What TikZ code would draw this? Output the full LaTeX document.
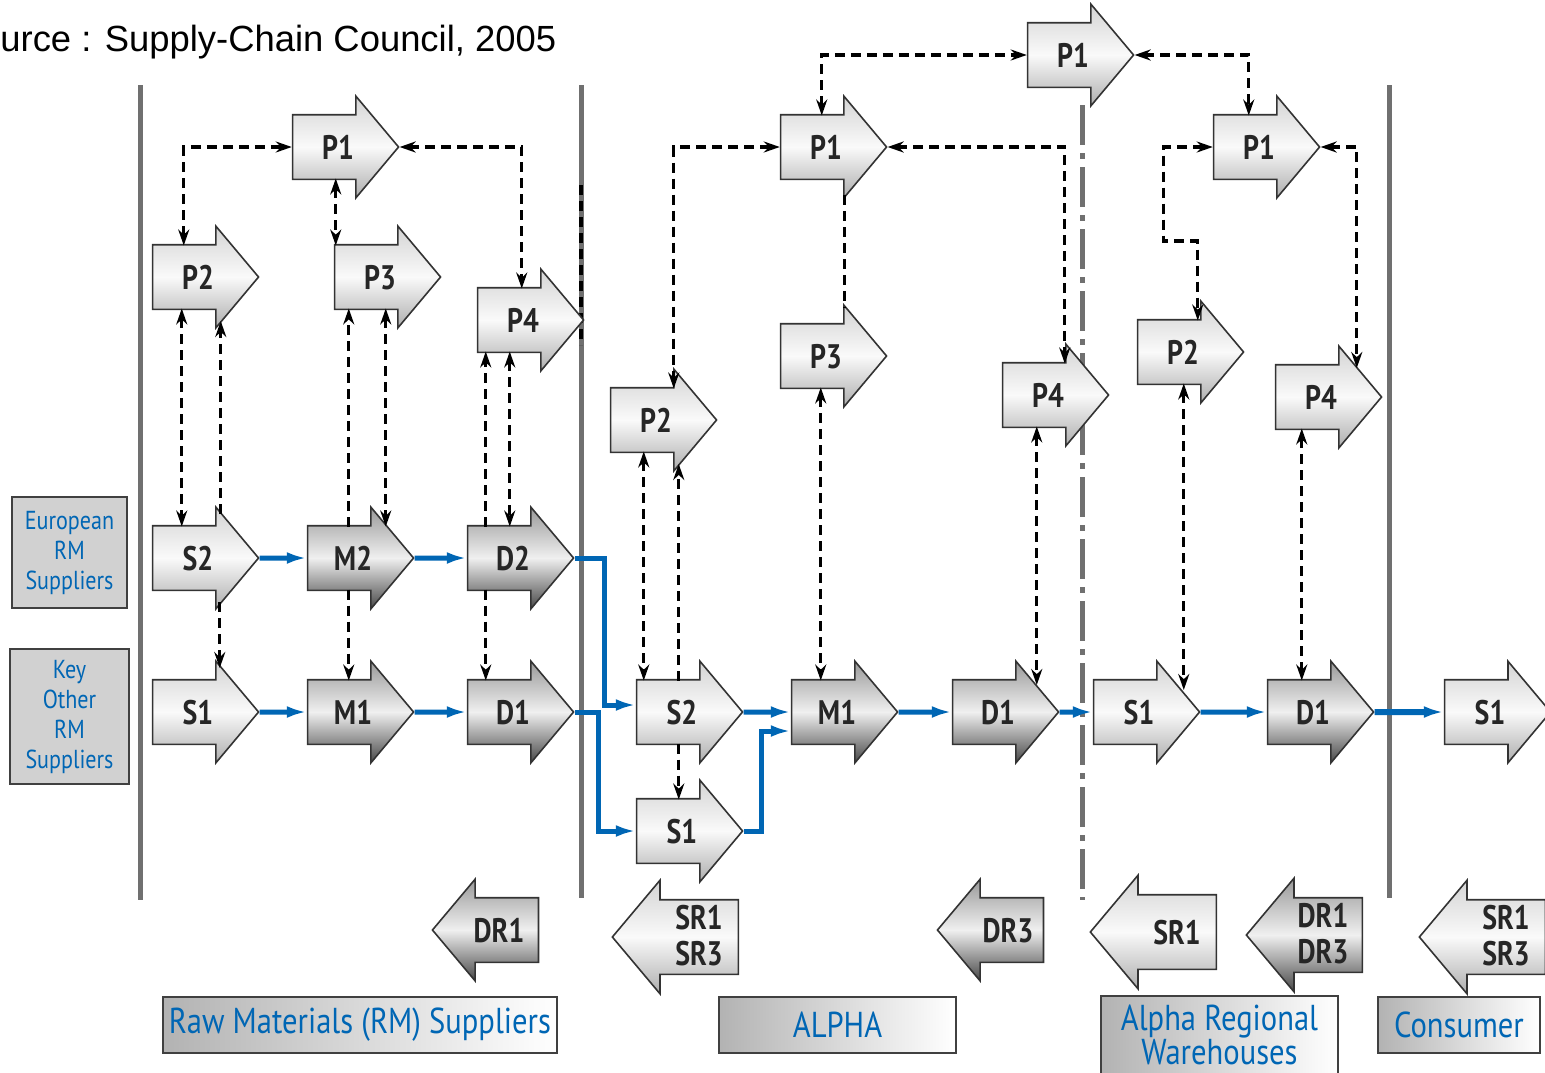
\documentclass[tikz,border=0pt]{standalone}
\usepackage{fontspec}
\setmainfont{Liberation Sans}
\newfontfamily\procfont{PT Sans}[FakeStretch=0.82]
\newfontfamily\zonefont{PT Sans}[FakeStretch=0.85]
\usetikzlibrary{shapes.arrows,arrows.meta,calc}
\definecolor{scorblue}{RGB}{0,102,180}
\definecolor{sepgray}{RGB}{112,112,112}
\newcommand\hbody{31.5}
\newcommand\rtag[2]{\makebox[0pt]{\hspace*{#1}#2}}

\begin{document}
\begin{tikzpicture}[x=0.5pt, y=-0.5pt,
  proc/.style={single arrow, draw=black!80, line width=0.8pt, minimum height=53pt,
    inner xsep=0pt, inner ysep=9.75pt, text height=12pt, text depth=0pt,
    single arrow head extend=9.25pt, single arrow tip angle=100,
    font=\procfont\bfseries\fontsize{17}{18}\selectfont, text=black!85},
  fwd/.style={proc, execute at begin node=\hspace*{6pt}},
  rev/.style={proc, shape border rotate=180},
  lite/.style={top color=black!17, bottom color=black!32, middle color=black!2},
  dim/.style={top color=black!40, bottom color=black!72, middle color=black!6},
  wide/.style={minimum height=63pt, inner ysep=12.25pt, single arrow head extend=9.75pt},
  flow/.style={draw=scorblue, line width=2.5pt, -{Latex[length=10pt,width=6pt]}},
  plan/.style={draw=black, line width=1.7pt, dash pattern=on 5pt off 3pt, >={Stealth[length=8pt,width=5.5pt]}},
  divider/.style={draw=sepgray, line width=2.5pt},
  sidebox/.style={draw=black!75, line width=1pt, fill=black!18, text=scorblue, align=center,
    inner sep=0pt, font=\zonefont\fontsize{13}{15}\selectfont},
  zone/.style={draw=black!75, line width=1pt, left color=black!30, right color=white, text=scorblue,
    inner sep=0pt, font=\zonefont\fontsize{18}{17}\selectfont}]

  \useasboundingbox (0,0) rectangle (1545,1072);

  \node at (0,42) [anchor=west, inner sep=0pt, font=\fontsize{18.2}{20}\selectfont] (src) {urce : Supply-Chain Council, 2005};

  %lanes
  \draw[divider] (140,85) -- (140,900);
  \draw[divider] (581,85) -- (581,898);
  \draw[divider, dash pattern=on 20pt off 4pt on 3pt off 4pt] (1082,105) -- (1082,900);
  \draw[divider] (1389,85) -- (1389,898);
  \draw[plan] (581,185) -- (581,345);

  \node at (69.5,552.5) [sidebox, minimum width=57.5pt, minimum height=55.5pt] (eur) {European\\RM\\Suppliers};
  \node at (69.5,716.5) [sidebox, minimum width=59.5pt, minimum height=67.5pt] (key) {Key\\Other\\RM\\Suppliers};

  %Raw materials suppliers
  \node at (332,147) [fwd, lite] (rP1) {P1};
  \node at (192,277) [fwd, lite] (rP2) {P2};
  \node at (374,277) [fwd, lite] (rP3) {P3};
  \node at (517,320) [fwd, lite] (rP4) {P4};
  \node at (192,558) [fwd, lite] (rS2) {S2};
  \node at (347,558) [fwd, dim] (rM2) {M2};
  \node at (507,558) [fwd, dim] (rD2) {D2};
  \node at (192,712) [fwd, lite] (rS1) {S1};
  \node at (347,712) [fwd, dim] (rM1) {M1};
  \node at (507,712) [fwd, dim] (rD1) {D1};
  \node at (499,930) [rev, dim] (rDR1) {DR1};

  %Alpha
  \node at (820,147) [fwd, lite] (aP1) {P1};
  \node at (650,420) [fwd, lite] (aP2) {P2};
  \node at (820,356) [fwd, lite] (aP3) {P3};
  \node at (1042,395) [fwd, lite] (aP4) {P4};
  \node at (676,712) [fwd, lite] (aS2) {S2};
  \node at (676,831) [fwd, lite] (aS1) {S1};
  \node at (831,712) [fwd, dim] (aM1) {M1};
  \node at (992,712) [fwd, dim] (aD1) {D1};
  \node at (691,937) [rev, wide, lite] (aSR) {\rtag{8pt}{\begin{tabular}{@{}c@{}}SR1\\SR3\end{tabular}}};
  \node at (1004,930) [rev, dim] (aDR3) {\rtag{4pt}{DR3}};
  \node at (1067,55) [fwd, lite] (tP1) {P1};

  %Regional warehouses
  \node at (1253,147) [fwd, lite] (wP1) {P1};
  \node at (1177,352) [fwd, lite] (wP2) {P2};
  \node at (1315,397) [fwd, lite] (wP4) {P4};
  \node at (1133,712) [fwd, lite] (wS1) {S1};
  \node at (1307,712) [fwd, dim] (wD1) {D1};
  \node at (1169,932) [rev, wide, lite] (wSR1) {\rtag{8pt}{SR1}};
  \node at (1320,935) [rev, wide, dim, minimum height=58pt] (wDR) {\rtag{3pt}{\begin{tabular}{@{}c@{}}DR1\\DR3\end{tabular}}};

  %Consumer
  \node at (1484,712) [fwd, lite] (cS1) {S1};
  \node at (1498,937) [rev, wide, lite] (cSR) {\rtag{8pt}{\begin{tabular}{@{}c@{}}SR1\\SR3\end{tabular}}};

  \node at (360,1025) [zone, minimum width=197pt, minimum height=28pt] (zRM) {Raw Materials (RM) Suppliers};
  \node at (837.5,1025) [zone, minimum width=118.5pt, minimum height=28pt] (zAlpha) {ALPHA};
  \node at (1219.5,1035) [zone, minimum width=118.5pt, minimum height=39pt, align=center] (zWH) {Alpha Regional\\Warehouses};
  \node at (1459,1025) [zone, minimum width=81pt, minimum height=28pt] (zCons) {Consumer};

  %material flow
  \draw[flow] (rS2.east) -- (rM2.west);
  \draw[flow] (rM2.east) -- (rD2.west);
  \draw[flow] (rS1.east) -- (rM1.west);
  \draw[flow] (rM1.east) -- (rD1.west);
  \draw[flow] (rD2.east) -- ++(30,0) |- ($(aS2.west)+(0,-7)$);
  \draw[flow] (rD1.east) -- ++(24,0) |- (aS1.west);
  \draw[flow] (aS2.east) -- (aM1.west);
  \draw[flow] (aS1.east) -- ++(18,0) |- ($(aM1.west)+(0,19)$);
  \draw[flow] (aM1.east) -- (aD1.west);
  \draw[flow] (aD1.east) -- (wS1.west);
  \draw[flow] (wS1.east) -- (wD1.west);
  \draw[flow, line width=3pt] (wD1.east) -- (cS1.west);

  %planning links, raw materials
  \draw[plan, <->] ($(rP2.tail)+(32,-\hbody)$) |- (rP1.west);
  \draw[plan, <->] ($(rP1.tail)+(44,\hbody)$) -- ($(rP3.tail)+(2,-\hbody)$);
  \draw[plan, <->] (rP1.east) -| ($(rP4.tail)+(45,-\hbody)$);
  \draw[plan, <->] ($(rP2.tail)+(30,\hbody)$) -- ($(rS2.tail)+(30,-\hbody)$);
  \draw[plan, ->] ($(rS2.tail)+(69,-44)$) -- ($(rP2.tail)+(69,44)$);
  \draw[plan, ->] ($(rS2.tail)+(68,44)$) -- ($(rS1.tail)+(68,-44)$);
  \draw[plan, ->] ($(rM2.tail)+(42,-\hbody)$) -- ($(rP3.tail)+(15,\hbody)$);
  \draw[plan, <->] ($(rP3.tail)+(52,\hbody)$) -- ($(rM2.tail)+(79,-\hbody)$);
  \draw[plan, ->] ($(rM2.tail)+(42,\hbody)$) -- ($(rM1.tail)+(42,-\hbody)$);
  \draw[plan, ->] ($(rD2.tail)+(19,-\hbody)$) -- ($(rP4.tail)+(9,\hbody)$);
  \draw[plan, <->] ($(rP4.tail)+(33,\hbody)$) -- ($(rD2.tail)+(43,-\hbody)$);
  \draw[plan, ->] ($(rD2.tail)+(19,\hbody)$) -- ($(rD1.tail)+(19,-\hbody)$);

  %planning links, alpha
  \draw[plan, <->] (aP1.west) -| ($(aP2.tail)+(64,-\hbody)$);
  \draw[plan, <->] ($(aP1.tail)+(42,-\hbody)$) |- (tP1.west);
  \draw[plan, <->] (aP1.east) -| ($(aP4.tail)+(63,-\hbody)$);
  \draw[plan] ($(aP1.tail)+(65,48)$) -- ($(aP3.tail)+(65,-48)$);
  \draw[plan, <->] ($(aP2.tail)+(34,\hbody)$) -- ($(aS2.tail)+(8,-\hbody)$);
  \draw[plan, ->] ($(aS2.tail)+(43,-\hbody)$) -- ($(aP2.tail)+(69,44)$);
  \draw[plan, ->] ($(aS2.tail)+(43,\hbody)$) -- ($(aS1.tail)+(43,-\hbody)$);
  \draw[plan, <->] ($(aP3.tail)+(41,\hbody)$) -- ($(aM1.tail)+(30,-\hbody)$);
  \draw[plan, <->] ($(aP4.tail)+(35,\hbody)$) -- ($(aD1.tail)+(85,-27)$);

  %planning links, warehouses
  \draw[plan, <->] (tP1.east) -| ($(wP1.tail)+(36,-\hbody)$);
  \draw[plan, <->] (wP1.west) -| ($(wP2.tail)+(27,-111)$) -| ($(wP2.tail)+(61,-\hbody)$);
  \draw[plan, <->] (wP1.east) -| ($(wP4.tail)+(82,-29)$);
  \draw[plan, <->] ($(wP2.tail)+(47,\hbody)$) -- ($(wS1.tail)+(91,-22)$);
  \draw[plan, <->] ($(wP4.tail)+(27,\hbody)$) -- ($(wD1.tail)+(35,-\hbody)$);
\end{tikzpicture}
\end{document}
